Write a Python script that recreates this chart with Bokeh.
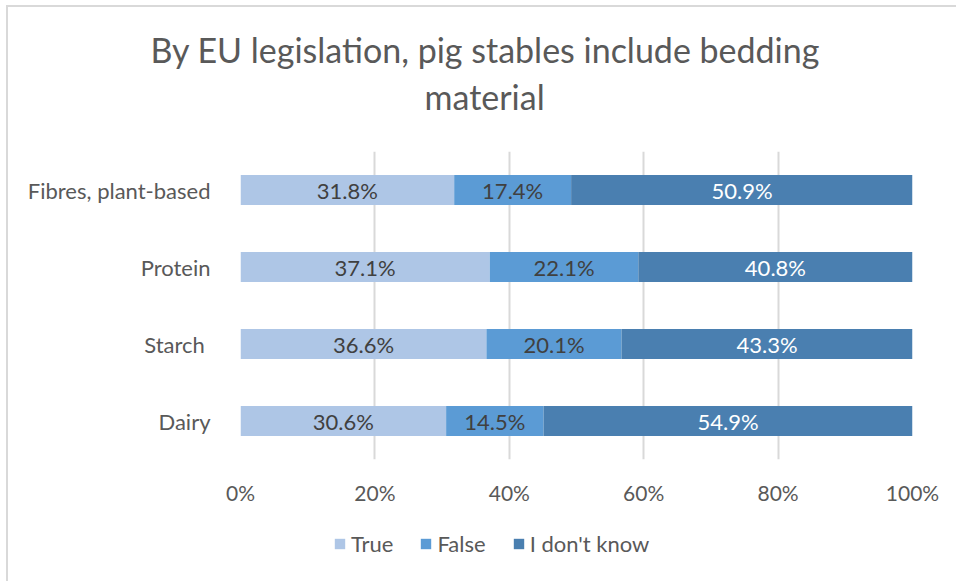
from bokeh.plotting import figure
from bokeh.layouts import column
from bokeh.models import (Range1d, FactorRange, FixedTicker, Legend, LegendItem,
                          ColumnDataSource, Title, InlineStyleSheet)
from bokeh.core.properties import value
from bokeh.embed import file_html
from bokeh.resources import INLINE

categories = ["Dairy", "Starch ", "Protein", "Fibres, plant-based"]
series = ["True", "False", "I don't know"]
true_vals = [30.6, 36.6, 37.1, 31.8]
false_vals = [14.5, 20.1, 22.1, 17.4]
dunno_vals = [54.9, 43.3, 40.8, 50.9]
x_ticks = [0, 20, 40, 60, 80, 100]
title_lines = ["By EU legislation, pig stables include bedding", "material"]
colors = ["#aec6e6", "#5b9bd5", "#4a7fb0"]
label_colors = ["#404040", "#404040", "#ffffff"]

FONT = "Lato"
TXT = "#595959"

W, H1, H2 = 956, 515, 66
p = figure(width=W, height=H1, output_backend="svg", toolbar_location=None,
           y_range=FactorRange(*categories, range_padding=0, factor_padding=0),
           x_range=Range1d(0, 100),
           min_border_left=240, min_border_right=44,
           min_border_top=151, min_border_bottom=56)
p.outline_line_color = None
p.background_fill_color = "white"
p.border_fill_color = "white"

t2 = Title(text=title_lines[1], align="left", offset=184,
           text_font=FONT, text_font_size="34px", text_font_style="normal",
           text_color=TXT, standoff=69)
t1 = Title(text=title_lines[0], align="left", offset=-90,
           text_font=FONT, text_font_size="34px", text_font_style="normal",
           text_color=TXT, standoff=-60)
p.add_layout(t2, "above")
p.add_layout(t1, "above")

src = ColumnDataSource(dict(cat=categories, t=true_vals, f=false_vals, d=dunno_vals))
rs = p.hbar_stack(["t", "f", "d"], y="cat", height=0.39, color=colors,
                  line_color=None, source=src)

# data labels
lx, ly, lt, lc = [], [], [], []
for i, c in enumerate(categories):
    vals = [true_vals[i], false_vals[i], dunno_vals[i]]
    start = 0
    for j, v in enumerate(vals):
        lx.append(start + v / 2)
        ly.append(c)
        lt.append(f"{v:.1f}%")
        lc.append(label_colors[j])
        start += v
p.text(x=lx, y=ly, text=lt, text_color=lc, text_align="center",
       text_baseline="middle", text_font=value(FONT), text_font_size="22px")

p.xaxis.ticker = FixedTicker(ticks=x_ticks)
p.xaxis.major_label_overrides = {v: f"{v}%" for v in x_ticks}
p.xaxis.axis_line_color = None
p.xaxis.major_tick_line_color = None
p.xaxis.minor_tick_line_color = None
p.xaxis.major_label_text_font = FONT
p.xaxis.major_label_text_font_size = "21px"
p.xaxis.major_label_text_color = TXT
p.xaxis.major_label_standoff = 14

p.yaxis.axis_line_color = None
p.yaxis.major_tick_line_color = None
p.yaxis.major_label_text_font = FONT
p.yaxis.major_label_text_font_size = "22px"
p.yaxis.major_label_text_color = TXT
p.yaxis.major_label_standoff = 24

p.ygrid.grid_line_color = None
p.xgrid.ticker = FixedTicker(ticks=x_ticks)
p.xgrid.grid_line_color = "#d9d9d9"
p.xgrid.grid_line_width = 2

# chart-area border (top and left edges visible, as in the reference)
p.stylesheets = [InlineStyleSheet(css=""":host::before { content: ""; position: absolute;
  left: 6px; top: 5px; right: -10px; bottom: -100px; border-left: 2px solid #d9d9d9;
  border-top: 2px solid #d9d9d9; z-index: 10; pointer-events: none; }""")]

# legend strip (separate figure so the legend can sit centred under the whole chart)
lg = figure(width=W, height=H2, output_backend="svg", toolbar_location=None,
            x_range=Range1d(0, W), y_range=Range1d(0, H2),
            x_axis_type=None, y_axis_type=None,
            min_border_left=0, min_border_right=0, min_border_top=0, min_border_bottom=0)
lg.outline_line_color = None
lg.border_fill_color = "white"
dummies = [lg.hbar(y=[-50], right=[1], height=1, color=c, line_color=None) for c in colors]
legend = Legend(items=[LegendItem(label=s, renderers=[r]) for s, r in zip(series, dummies)],
                orientation="horizontal", location=(93, 24),
                label_text_font=FONT, label_text_font_size="22px",
                label_text_color=TXT, glyph_width=13, glyph_height=13,
                spacing=26, label_standoff=5, padding=0, margin=0,
                border_line_color=None, background_fill_alpha=0)
lg.add_layout(legend, "center")
lg.stylesheets = [InlineStyleSheet(css=""":host::before { content: ""; position: absolute;
  left: 6px; top: 0px; bottom: 0px; border-left: 2px solid #d9d9d9; z-index: 10;
  pointer-events: none; }""")]

layout = column(p, lg, spacing=0)
open("out.html", "w").write(file_html(layout, INLINE))
